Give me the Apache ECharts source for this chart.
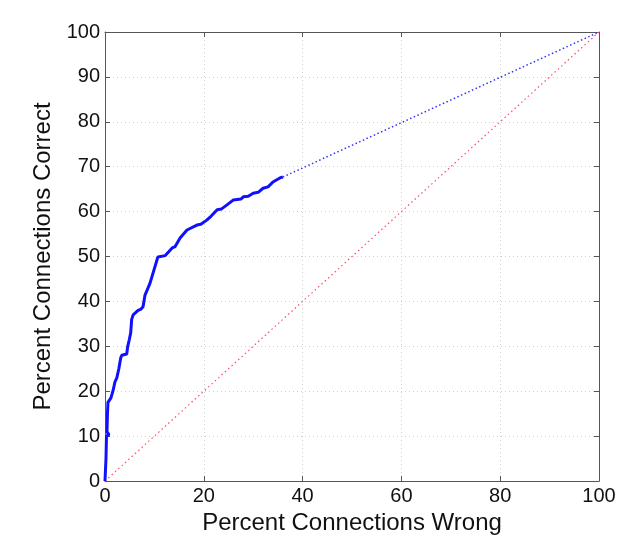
<!DOCTYPE html>
<html>
<head>
<meta charset="utf-8">
<script src="https://cdn.jsdelivr.net/npm/echarts@6/dist/echarts.min.js"></script>
<style>
  html, body { margin: 0; padding: 0; background: #fff; }
  #chart { width: 629px; height: 542px; }
</style>
</head>
<body>
<div id="chart"></div>
<script>
// percent connections wrong / correct along the measured curve
var wrongPct = [0, 0.2, 0.3, 0.8, 0.4, 0.5, 0.6, 1.2, 1.6, 2.0, 2.4, 2.8, 3.2, 3.4, 4.4, 4.6, 4.9, 5.2, 5.4, 5.7,
  6.7, 7.3, 7.7, 8.1, 9.1, 10.1, 10.7, 12.2, 12.6, 13.6, 14.2, 15.2, 16.6, 18.6, 19.4, 20.6, 21.5, 22.7,
  23.6, 24.7, 26, 27.5, 28, 29, 30, 31, 32, 33, 34, 35.4, 36];
var correctPct = [0, 5, 10, 10.3, 11, 15, 17.5, 18.5, 20, 22, 23, 25, 27.5, 28, 28.3, 30, 31.4, 33, 36, 37,
  38, 38.3, 38.8, 41.4, 44, 47.7, 49.9, 50.2, 50.6, 51.9, 52.2, 54.1, 55.9, 57, 57.2, 58.1, 59, 60.4,
  60.6, 61.5, 62.6, 62.8, 63.3, 63.4, 64.1, 64.3, 65.2, 65.5, 66.6, 67.5, 67.7];
// extrapolated tail of the curve
var tailWrong = [36, 100];
var tailCorrect = [67.7, 100];
// chance diagonal
var chanceWrong = [0, 100];
var chanceCorrect = [0, 100];

function zip(a, b) {
  return a.map(function (v, i) { return [v, b[i]]; });
}

var font = 'Liberation Sans, Arial, sans-serif';
var axisLine = { show: true, onZero: false, lineStyle: { color: '#555', width: 1 } };
var tick = { show: true, inside: true, length: 5, lineStyle: { color: '#555' } };
var grid = { show: true, lineStyle: { color: '#cfcfcf', type: [1, 3], width: 1 } };

var chart = echarts.init(document.getElementById('chart'));
chart.setOption({
  animation: false,
  backgroundColor: '#fff',
  grid: { left: 105, right: 30, top: 32, bottom: 61 },
  xAxis: [{
    type: 'value', min: 0, max: 100, interval: 20, position: 'bottom',
    name: 'Percent Connections Wrong', nameLocation: 'middle', nameGap: 30,
    nameTextStyle: { fontFamily: font, fontSize: 24, color: '#111' },
    axisLine: axisLine, axisTick: tick, splitLine: grid,
    axisLabel: { fontFamily: font, fontSize: 20, color: '#111', margin: 5 }
  }, {
    type: 'value', min: 0, max: 100, interval: 20, position: 'top',
    axisLine: axisLine, axisTick: tick, splitLine: { show: false }, axisLabel: { show: false }
  }],
  yAxis: [{
    type: 'value', min: 0, max: 100, interval: 10, position: 'left',
    name: 'Percent Connections Correct', nameLocation: 'middle', nameGap: 50,
    nameTextStyle: { fontFamily: font, fontSize: 24, color: '#111' },
    axisLine: axisLine, axisTick: tick, splitLine: grid,
    axisLabel: { fontFamily: font, fontSize: 20, color: '#111', margin: 5 }
  }, {
    type: 'value', min: 0, max: 100, interval: 10, position: 'right',
    axisLine: axisLine, axisTick: tick, splitLine: { show: false }, axisLabel: { show: false }
  }],
  series: [{
    type: 'line', data: zip(chanceWrong, chanceCorrect), symbol: 'none',
    lineStyle: { color: '#ff4d66', width: 1.2, type: [1.5, 3] }, z: 2
  }, {
    type: 'line', data: zip(tailWrong, tailCorrect), symbol: 'none',
    lineStyle: { color: '#3333ff', width: 1.5, type: [1.5, 2.5] }, z: 3
  }, {
    type: 'line', data: zip(wrongPct, correctPct), symbol: 'none',
    lineStyle: { color: '#1010ff', width: 3 }, z: 4
  }]
});
</script>
</body>
</html>
